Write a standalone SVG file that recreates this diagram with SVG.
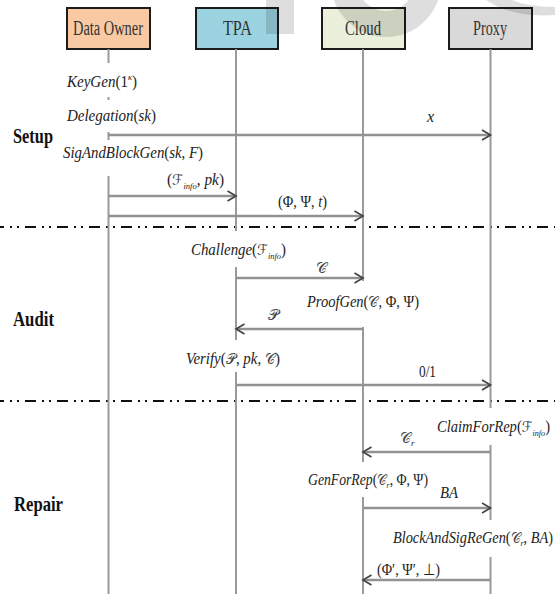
<svg xmlns="http://www.w3.org/2000/svg" width="555" height="594" viewBox="0 0 555 594">
<defs>
<style>
.box{stroke:#1c1c1c;stroke-width:2}
.bt{font-family:"Liberation Serif","Times New Roman",serif;font-size:20px;fill:#333}
.life{stroke:#9a9a9a;stroke-width:2;fill:none}
.msg{stroke:#929292;stroke-width:2.5;fill:none;marker-end:url(#ah)}
.dash{stroke:#111;stroke-width:1.8;stroke-dasharray:11 6 2 5 2 6;stroke-dashoffset:7}
.sec{font-family:"Liberation Serif","Times New Roman",serif;font-size:22px;font-weight:bold;fill:#111}
.lb{font-family:"Liberation Serif","Times New Roman",serif;font-size:16px;font-style:italic;fill:#222}
.u{font-style:normal}
.s{font-family:"DejaVu Serif","DejaVu Sans","Noto Sans",serif;font-style:normal;fill:#444;font-size:15px}
.sub{font-size:9px}
</style>
<marker id="ah" markerUnits="userSpaceOnUse" markerWidth="13" markerHeight="13" viewBox="0 0 13 13" refX="11" refY="6.5" orient="auto">
<path d="M2.5 1.5 L11 6.5 L2.5 11.5" fill="none" stroke="#444" stroke-width="1.7"/>
</marker>
</defs>
<rect width="555" height="594" fill="#fff"/>

<g id="separators">
<line class="dash" x1="0" y1="227" x2="555" y2="227"/>
<line class="dash" x1="0" y1="401" x2="555" y2="401"/>
</g>

<g id="data-owner">
<rect class="box" x="67" y="8" width="83" height="41" fill="#f9c9a3"/>
<text class="bt" x="73" y="35" textLength="70" lengthAdjust="spacingAndGlyphs">Data Owner</text>
<path class="life" d="M108.5 49V63M108.5 97V100M108.5 132V140M108.5 176V594"/>
</g>
<g id="tpa">
<rect class="box" x="196" y="8" width="82" height="41" fill="#9bd3e0"/>
<text class="bt" x="223" y="35" textLength="29" lengthAdjust="spacingAndGlyphs">TPA</text>
<path class="life" d="M236 49V231M236 267V340M236 372V594"/>
</g>
<g id="cloud">
<rect class="box" x="322" y="8" width="83" height="41" fill="#ebf0dc"/>
<text class="bt" x="345" y="35" textLength="36" lengthAdjust="spacingAndGlyphs">Cloud</text>
<path class="life" d="M363 49V281M363 327V462M363 497V594"/>
</g>
<g id="proxy">
<rect class="box" x="449" y="8" width="83" height="41" fill="#d9d9d9"/>
<text class="bt" x="473" y="35" textLength="34" lengthAdjust="spacingAndGlyphs">Proxy</text>
<path class="life" d="M490.5 49V408M490.5 445V520M490.5 557V594"/>
</g>

<g id="watermark" fill="#000" fill-opacity="0.13">
<rect x="266" y="0" width="28" height="34"/>
<circle cx="386" cy="-18" r="42" fill="none" stroke="#000" stroke-opacity="0.13" stroke-width="26"/>
<path d="M486 0Q512 18 555 15L555 7Q528 7 512 0Z"/>
</g>

<g id="sections">
<text class="sec" x="13" y="143" textLength="40" lengthAdjust="spacingAndGlyphs">Setup</text>
<text class="sec" x="13" y="326" textLength="41" lengthAdjust="spacingAndGlyphs">Audit</text>
<text class="sec" x="14" y="511" textLength="49" lengthAdjust="spacingAndGlyphs">Repair</text>
</g>

<g id="operations">
<text class="lb" x="67" y="87" textLength="70" lengthAdjust="spacingAndGlyphs">KeyGen<tspan class="u">(1</tspan><tspan class="sub" dy="-7">κ</tspan><tspan class="u" dy="7">)</tspan></text>
<text class="lb" x="67" y="121" textLength="89" lengthAdjust="spacingAndGlyphs">Delegation<tspan class="u">(</tspan>sk<tspan class="u">)</tspan></text>
<text class="lb" x="63" y="158" textLength="140" lengthAdjust="spacingAndGlyphs">SigAndBlockGen<tspan class="u">(</tspan>sk<tspan class="u">, </tspan>F<tspan class="u">)</tspan></text>
<text class="lb" x="191" y="255" textLength="95" lengthAdjust="spacingAndGlyphs">Challenge<tspan class="u">(</tspan><tspan class="s">ℱ</tspan><tspan class="sub" dy="4">info</tspan><tspan class="u" dy="-4">)</tspan></text>
<text class="lb" x="307" y="307" textLength="112" lengthAdjust="spacingAndGlyphs">ProofGen<tspan class="u">(</tspan><tspan class="s">𝒞</tspan><tspan class="u">, Φ, Ψ)</tspan></text>
<text class="lb" x="186" y="364" textLength="94" lengthAdjust="spacingAndGlyphs">Verify<tspan class="u">(</tspan><tspan class="s">𝒫</tspan><tspan class="u">, </tspan>pk<tspan class="u">, </tspan><tspan class="s">𝒞</tspan><tspan class="u">)</tspan></text>
<text class="lb" x="437" y="432" textLength="113" lengthAdjust="spacingAndGlyphs">ClaimForRep<tspan class="u">(</tspan><tspan class="s">ℱ</tspan><tspan class="sub" dy="4">info</tspan><tspan class="u" dy="-4">)</tspan></text>
<text class="lb" x="308" y="485" textLength="120" lengthAdjust="spacingAndGlyphs">GenForRep<tspan class="u">(</tspan><tspan class="s">𝒞</tspan><tspan class="sub" dy="3">r</tspan><tspan class="u" dy="-3">, Φ, Ψ)</tspan></text>
<text class="lb" x="393" y="543" textLength="160" lengthAdjust="spacingAndGlyphs">BlockAndSigReGen<tspan class="u">(</tspan><tspan class="s">𝒞</tspan><tspan class="sub" dy="3">r</tspan><tspan class="u" dy="-3">, </tspan>BA<tspan class="u">)</tspan></text>
</g>

<g id="connectors">
<line class="msg" x1="108.5" y1="135" x2="490.5" y2="135"/>
<line class="msg" x1="108.5" y1="196" x2="236" y2="196"/>
<line class="msg" x1="108.5" y1="216" x2="363" y2="216"/>
<line class="msg" x1="236" y1="278" x2="363" y2="278"/>
<line class="msg" x1="363" y1="329" x2="236" y2="329"/>
<line class="msg" x1="236" y1="385" x2="490.5" y2="385"/>
<line class="msg" x1="490.5" y1="452" x2="363" y2="452"/>
<line class="msg" x1="363" y1="508" x2="490.5" y2="508"/>
<line class="msg" x1="490.5" y1="580" x2="363" y2="580"/>
<text class="lb" x="427" y="122">x</text>
<text class="lb" x="167" y="185" textLength="57" lengthAdjust="spacingAndGlyphs"><tspan class="u">(</tspan><tspan class="s">ℱ</tspan><tspan class="sub" dy="4">info</tspan><tspan class="u" dy="-4">, </tspan>pk<tspan class="u">)</tspan></text>
<text class="lb" x="278" y="207" textLength="49" lengthAdjust="spacingAndGlyphs"><tspan class="u">(Φ, Ψ, </tspan>t<tspan class="u">)</tspan></text>
<text class="lb s" x="316" y="273">𝒞</text>
<text class="lb s" x="268" y="320">𝒫</text>
<text class="lb u" x="419" y="377" textLength="17" lengthAdjust="spacingAndGlyphs">0/1</text>
<text class="lb" x="400" y="443"><tspan class="s">𝒞</tspan><tspan class="sub" dy="3">r</tspan></text>
<text class="lb" x="440" y="498" textLength="18" lengthAdjust="spacingAndGlyphs">BA</text>
<text class="lb u" x="377" y="575" textLength="63" lengthAdjust="spacingAndGlyphs">(Φ′, Ψ′, ⊥)</text>
</g>
</svg>
